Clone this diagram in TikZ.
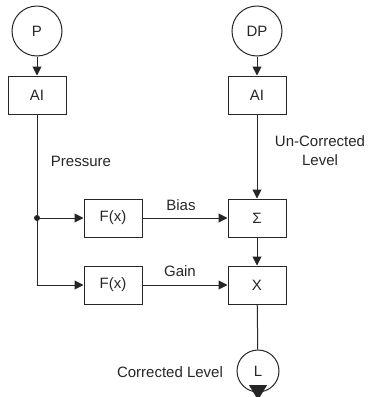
\documentclass[tikz,border=0pt]{standalone}
\usepackage{fontspec}
\setmainfont{Liberation Sans}
\usetikzlibrary{shapes.geometric, arrows.meta, positioning, calc}

\begin{document}
\begin{tikzpicture}[x=1pt, y=-1pt, line width=1pt, draw=black!85, text=black!85,
	font=\fontsize{15}{19}\selectfont,
	>={Triangle[length=9pt,width=9pt]},
	block/.style={draw=black!85, minimum width=58pt, minimum height=38pt, inner sep=0pt},
	sensor/.style={circle, draw=black!85, minimum size=50pt, inner sep=0pt}]
	\useasboundingbox (0,0) rectangle (369,397);

	% Inputs
	\node[sensor] (P) at (37,31) {P};
	\node[sensor] (DP) at (257,31) {DP};

	% Analog input blocks
	\node[block] (AI-1) at (37,95) {AI};
	\node[block] (AI-2) at (257,95) {AI};

	% Function blocks
	\node[block] (Fx-1) at (113,218) {F(x)};
	\node[block] (Fx-2) at (113,285) {F(x)};
	\node[block] (Sum) at (257,218) {Σ};
	\node[block] (Mul) at (257,285) {X};

	% Output
	\node[circle, draw=black!85, minimum size=42pt, inner sep=0pt] (L) at (258,371) {L};
	\coordinate (L-out) at (258,400);

	% Branch point
	\coordinate (jn) at (37,218);
	\fill[black!85] (jn) circle (3pt);

	% Edges
	\draw[->] (P) -- (AI-1);
	\draw[->] (DP) -- (AI-2);
	\draw (AI-1) -- (jn);
	\draw[->] (jn) -- (Fx-1);
	\draw[->] (jn) |- (Fx-2);
	\draw[->] (Fx-1) -- (Sum);
	\draw[->] (Fx-2) -- (Mul);
	\draw[->] (AI-2) -- (Sum);
	\draw[->] (Sum) -- (Mul);
	\draw (Mul) -- (L);
	\draw[-{Triangle[length=15pt,width=18pt]}] (L.south) -- (L-out);

	% Labels
	\node at (81,161) {Pressure};
	\node[align=center] at (320,151) {Un-Corrected\\Level};
	\node at (181,205) {Bias};
	\node at (180,271) {Gain};
	\node at (170,372) {Corrected Level};
\end{tikzpicture}
\end{document}
